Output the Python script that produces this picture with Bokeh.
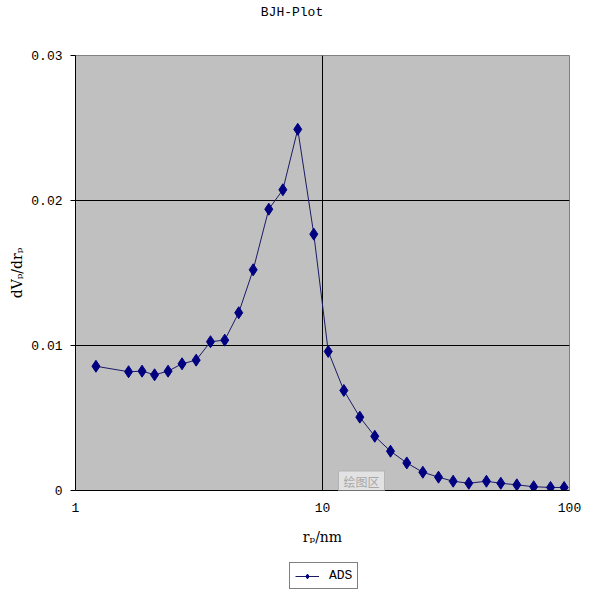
from bokeh.plotting import figure
from bokeh.layouts import column
from bokeh.models import (FixedTicker, CustomJSTickFormatter, Label, Legend,
                          LegendItem, Range1d)
from bokeh.embed import file_html
from bokeh.resources import INLINE

# ---- data ----
pore_radius = [1.21, 1.64, 1.86, 2.09, 2.37, 2.70, 3.08, 3.52, 4.02, 4.58,
               5.24, 6.06, 6.91, 7.94, 9.22, 10.55, 12.2, 14.16, 16.28, 18.85,
               21.94, 25.48, 29.49, 33.8, 39.1, 46.1, 52.7, 61.2, 71.6, 83.8, 95.1]
dv_dr = [0.00857, 0.00819, 0.00823, 0.00798, 0.00823, 0.00874, 0.00899, 0.01026,
         0.01037, 0.01226, 0.01522, 0.01940, 0.02074, 0.02491, 0.01768, 0.00959,
         0.00690, 0.00506, 0.00374, 0.00271, 0.00190, 0.00126, 0.00092, 0.00064,
         0.00050, 0.00064, 0.00050, 0.00039, 0.00026, 0.00021, 0.00021]
x_ticks = [1, 10, 100]
y_ticks = [0, 0.01, 0.02, 0.03]
series_name = "ADS"
chart_title = "BJH-Plot"
x_label = "rₚ/nm"
y_label = "dVₚ/drₚ"

MONO = "Liberation Mono"
NAVY = "#000080"
LINE_COL = "#1a1a66"


def strip(height):
    f = figure(width=596, height=height, output_backend="svg",
               toolbar_location=None, x_axis_location=None, y_axis_location=None,
               x_range=Range1d(0, 1), y_range=Range1d(1, 2),
               min_border_left=0, min_border_right=0,
               min_border_top=0, min_border_bottom=0)
    f.grid.visible = False
    f.outline_line_color = None
    f.background_fill_color = "white"
    f.border_fill_color = "white"
    return f


# ---- title strip ----
top = strip(25)
top.add_layout(Label(x=216.5, y=13, x_units="screen", y_units="screen",
                     text=chart_title, text_align="center", text_baseline="middle",
                     text_font=MONO, text_font_size="13px", text_color="black"))

# ---- main chart ----
p = figure(width=596, height=531, title=None, x_axis_type="log",
           x_range=Range1d(1, 100), y_range=Range1d(0, 0.03),
           output_backend="svg", toolbar_location=None,
           min_border_left=75, min_border_right=27,
           min_border_top=30, min_border_bottom=66)

p.background_fill_color = "#C0C0C0"
p.border_fill_color = "white"
p.outline_line_color = "#808080"

fmt = CustomJSTickFormatter(code="return tick.toString();")
for ax in (p.xaxis[0], p.yaxis[0]):
    ax.formatter = fmt
    ax.axis_line_color = "black"
    ax.major_tick_line_color = "black"
    ax.minor_tick_line_color = None
    ax.major_label_text_font = MONO
    ax.major_label_text_font_size = "13px"
    ax.major_label_text_color = "black"
    ax.major_tick_in = 0
    ax.axis_label_text_font = "DejaVu Serif"
    ax.axis_label_text_font_size = "14px"
    ax.axis_label_text_font_style = "normal"
    ax.axis_label_text_color = "black"

p.xaxis[0].ticker = FixedTicker(ticks=x_ticks)
p.yaxis[0].ticker = FixedTicker(ticks=y_ticks)
p.xaxis[0].major_tick_out = 0
p.xaxis[0].major_label_standoff = 12
p.xaxis[0].axis_label = x_label
p.xaxis[0].axis_label_standoff = 14
p.yaxis[0].major_tick_out = 5
p.yaxis[0].major_label_standoff = 8
p.yaxis[0].axis_label = y_label
p.yaxis[0].axis_label_standoff = 3

p.xgrid.ticker = FixedTicker(ticks=x_ticks)
p.ygrid.ticker = FixedTicker(ticks=y_ticks)
p.xgrid.grid_line_color = "black"
p.ygrid.grid_line_color = "black"
p.xgrid.minor_grid_line_color = None

p.line(pore_radius, dv_dr, line_color=LINE_COL, line_width=1)
p.scatter(pore_radius, dv_dr, marker="diamond", size=12,
          fill_color=NAVY, line_color=NAVY)

# plot-area tooltip
p.add_layout(Label(x=286, y=9, x_units="screen", y_units="screen", text="绘图区",
                   text_align="center", text_baseline="middle",
                   text_font="Noto Sans CJK SC", text_font_size="12px",
                   text_color="#A8A8A8", background_fill_color="#E2E2E2",
                   border_line_color="#B4B4B4", padding=(5, 2)))

# ---- legend strip below the chart ----
leg = strip(38)
# same series drawn outside the strip's visible range, only to feed the legend
lr = leg.line(pore_radius, dv_dr, line_color=LINE_COL, line_width=1)
sr = leg.scatter(pore_radius, dv_dr, marker="diamond", size=10,
                 fill_color=NAVY, line_color=NAVY)
legend = Legend(items=[LegendItem(label=series_name, renderers=[lr, sr])],
                location=(214, 5), margin=0, padding=5, spacing=0,
                glyph_width=24, glyph_height=12, label_height=12,
                label_standoff=10, label_text_font=MONO,
                label_text_font_size="13px", label_text_color="black",
                border_line_color="black", border_line_width=1,
                background_fill_color="white", background_fill_alpha=1)
leg.add_layout(legend)

layout = column(top, p, leg, spacing=0)
open("out.html", "w").write(file_html(layout, INLINE))
